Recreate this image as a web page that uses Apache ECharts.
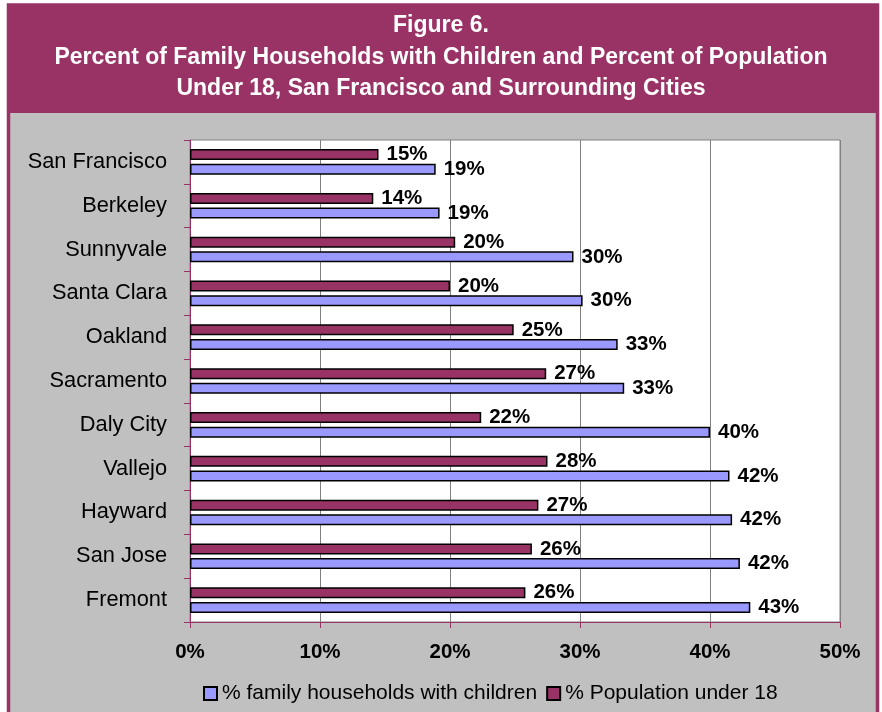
<!DOCTYPE html>
<html>
<head>
<meta charset="utf-8">
<script src="https://cdn.jsdelivr.net/npm/echarts@6/dist/echarts.min.js"></script>
<style>
  html, body { margin: 0; padding: 0; background: #fff; }
  #chart { width: 882px; height: 712px; }
</style>
</head>
<body>
<div id="chart"></div>
<script>
const cities = ["San Francisco", "Berkeley", "Sunnyvale", "Santa Clara", "Oakland", "Sacramento",
  "Daly City", "Vallejo", "Hayward", "San Jose", "Fremont"];
const familyWithChildren = [18.9, 19.2, 29.5, 30.2, 32.9, 33.4, 40.0, 41.5, 41.7, 42.3, 43.1];
const populationUnder18 = [14.5, 14.1, 20.4, 20.0, 24.9, 27.4, 22.4, 27.5, 26.8, 26.3, 25.8];
const xTicks = [0, 10, 20, 30, 40, 50];

const titleLines = [
  "Figure 6.",
  "Percent of Family Households with Children and Percent of Population",
  "Under 18, San Francisco and Surrounding Cities"
];

const maroon = "#993366";
const lilac = "#9999ff";
const font = "Liberation Sans, Arial, sans-serif";

const chart = echarts.init(document.getElementById("chart"));

const barLabel = {
  show: true,
  position: "right",
  distance: 8,
  formatter: (p) => Math.round(p.value) + "%",
  color: "#000",
  fontFamily: font,
  fontWeight: "bold",
  fontSize: 20.5
};

chart.setOption({
  animation: false,
  textStyle: { fontFamily: font },
  graphic: [
    {
      type: "rect",
      z: -10,
      shape: { x: 8.5, y: 5, width: 869, height: 720 },
      style: { fill: "#c0c0c0", stroke: maroon, lineWidth: 3.5 }
    },
    {
      type: "rect",
      z: -9,
      shape: { x: 8, y: 5, width: 870, height: 108 },
      style: { fill: maroon }
    }
  ],
  title: {
    text: titleLines.join("\n"),
    left: "center",
    top: 10,
    padding: 0,
    textStyle: {
      color: "#fff",
      fontFamily: font,
      fontWeight: "bold",
      fontSize: 23,
      lineHeight: 31.5
    }
  },
  legend: {
    left: 198,
    top: 678,
    icon: "rect",
    itemWidth: 13,
    itemHeight: 13,
    itemGap: 9,
    data: ["% family households with children", "% Population under 18"],
    textStyle: { fontFamily: font, fontSize: 21, color: "#000" }
  },
  grid: {
    left: 190,
    right: 42,
    top: 140,
    bottom: 90,
    show: true,
    backgroundColor: "#fff",
    borderColor: "#808080",
    borderWidth: 1
  },
  xAxis: {
    type: "value",
    min: xTicks[0],
    max: xTicks[xTicks.length - 1],
    interval: 10,
    axisLine: { show: true, lineStyle: { color: maroon, width: 1 } },
    axisTick: { show: true, length: 6, lineStyle: { color: maroon } },
    splitLine: { show: true, lineStyle: { color: "#808080", width: 1 } },
    axisLabel: {
      margin: 20,
      formatter: "{value}%",
      color: "#000",
      fontFamily: font,
      fontWeight: "bold",
      fontSize: 20.5
    }
  },
  yAxis: {
    type: "category",
    inverse: true,
    data: cities,
    axisLine: { show: true, lineStyle: { color: maroon, width: 1 } },
    axisTick: { show: true, length: 6, lineStyle: { color: maroon } },
    axisLabel: {
      margin: 23,
      color: "#000",
      fontFamily: font,
      fontSize: 21.8
    }
  },
  series: [
    {
      name: "% Population under 18",
      type: "bar",
      data: populationUnder18,
      barWidth: 11,
      barGap: "33%",
      itemStyle: { color: maroon, borderColor: "#000", borderWidth: 1.5 },
      label: barLabel
    },
    {
      name: "% family households with children",
      type: "bar",
      data: familyWithChildren,
      barWidth: 11,
      itemStyle: { color: lilac, borderColor: "#000", borderWidth: 1.5 },
      label: barLabel
    }
  ]
});
</script>
</body>
</html>
